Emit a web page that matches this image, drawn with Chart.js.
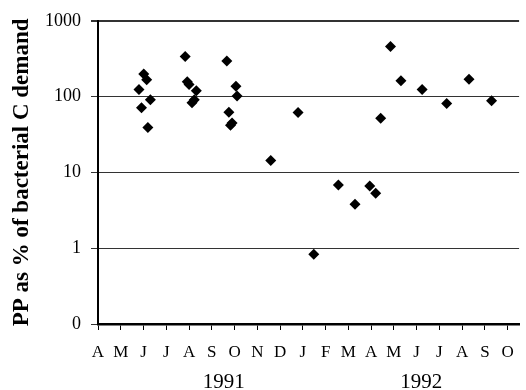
<!DOCTYPE html>
<html lang="en">
<head>
<meta charset="UTF-8">
<title>PP as % of bacterial C demand</title>
<script src="https://cdn.jsdelivr.net/npm/chart.js"></script>
<style>
  body { margin: 0; background: #fff; }
  #grafico { display: block; }
</style>
</head>
<body>
<canvas id="grafico" width="526" height="390"></canvas>
<script>
  // months from April 1991 (0) to October 1992 (18)
  const mesesLabels = ['A','M','J','J','A','S','O','N','D','J','F','M','A','M','J','J','A','S','O'];
  const anos = ['1991', '1992'];
  const anosPos = [5.53, 14.2];
  const yTicks = [0.1, 1, 10, 100, 1000];

  // sampling time (month index) and PP as % of bacterial C demand
  const tempo = [2.01, 2.14, 1.80, 2.30, 1.91, 2.19,
                 3.83, 3.92, 4.00, 4.32, 4.23, 4.13,
                 5.66, 6.06, 6.11, 5.75, 5.89, 5.82,
                 7.59, 8.79, 9.48, 10.56, 11.29, 11.94, 12.20,
                 12.42, 12.85, 13.31, 14.24, 15.32, 16.30, 17.29];
  const ppDemanda = [199, 167, 124, 91, 71, 39,
                     339, 157, 144, 119, 91, 83,
                     295, 137, 102, 62, 45, 42,
                     14.4, 61.5, 0.83, 6.8, 3.8, 6.6, 5.3,
                     52, 459, 162, 124, 81, 169, 88];

  const pontos = tempo.map((t, i) => ({ x: t, y: ppDemanda[i] }));

  const fonte = '"Liberation Serif", "Times New Roman", serif';

  const anosPlugin = {
    id: 'anos',
    afterDraw(chart) {
      const ctx = chart.ctx;
      const xs = chart.scales.x;
      ctx.save();
      ctx.font = '21px ' + fonte;
      ctx.fillStyle = '#000';
      ctx.textAlign = 'center';
      ctx.textBaseline = 'middle';
      anos.forEach((a, i) => ctx.fillText(a, xs.getPixelForValue(anosPos[i]), 382));
      ctx.restore();
    }
  };

  new Chart(document.getElementById('grafico'), {
    type: 'scatter',
    data: {
      datasets: [{
        data: pontos,
        pointStyle: 'rectRot',
        pointRadius: 5.5,
        pointHoverRadius: 5.5,
        backgroundColor: '#000',
        borderColor: '#000',
        borderWidth: 0
      }]
    },
    options: {
      responsive: false,
      animation: false,
      layout: { padding: { top: 20, right: 0, left: 0, bottom: 0 } },
      plugins: {
        legend: { display: false },
        tooltip: { enabled: false }
      },
      scales: {
        x: {
          type: 'linear',
          min: 0,
          max: 18.5,
          afterFit(scale) { scale.height = 66; },
          afterBuildTicks(axis) {
            axis.ticks = mesesLabels.map((m, i) => ({ value: i }));
          },
          ticks: {
            autoSkip: false,
            maxRotation: 0,
            padding: 12,
            color: '#000',
            font: { family: fonte, size: 17 },
            callback: (v) => mesesLabels[v]
          },
          grid: {
            drawOnChartArea: false,
            drawTicks: true,
            tickLength: 6,
            color: '#000',
            lineWidth: 1
          },
          border: { display: true, color: '#000', width: 2.5 }
        },
        y: {
          type: 'logarithmic',
          min: 0.1,
          max: 1000,
          afterFit(scale) { scale.width = 98; },
          afterBuildTicks(axis) {
            axis.ticks = yTicks.map(v => ({ value: v }));
          },
          ticks: {
            color: '#000',
            padding: 10,
            font: { family: fonte, size: 18 },
            callback: (v) => v === 0.1 ? '0' : String(v)
          },
          title: {
            display: true,
            text: 'PP as % of bacterial C demand',
            color: '#000',
            font: { family: fonte, size: 23, weight: 'bold' },
            padding: { top: 8, bottom: 0 }
          },
          grid: {
            color: '#333',
            lineWidth: (c) => c.tick && c.tick.value === 1000 ? 2 : 1,
            tickLength: 7
          },
          border: { display: true, color: '#000', width: 2 }
        }
      }
    },
    plugins: [anosPlugin]
  });
</script>
</body>
</html>
